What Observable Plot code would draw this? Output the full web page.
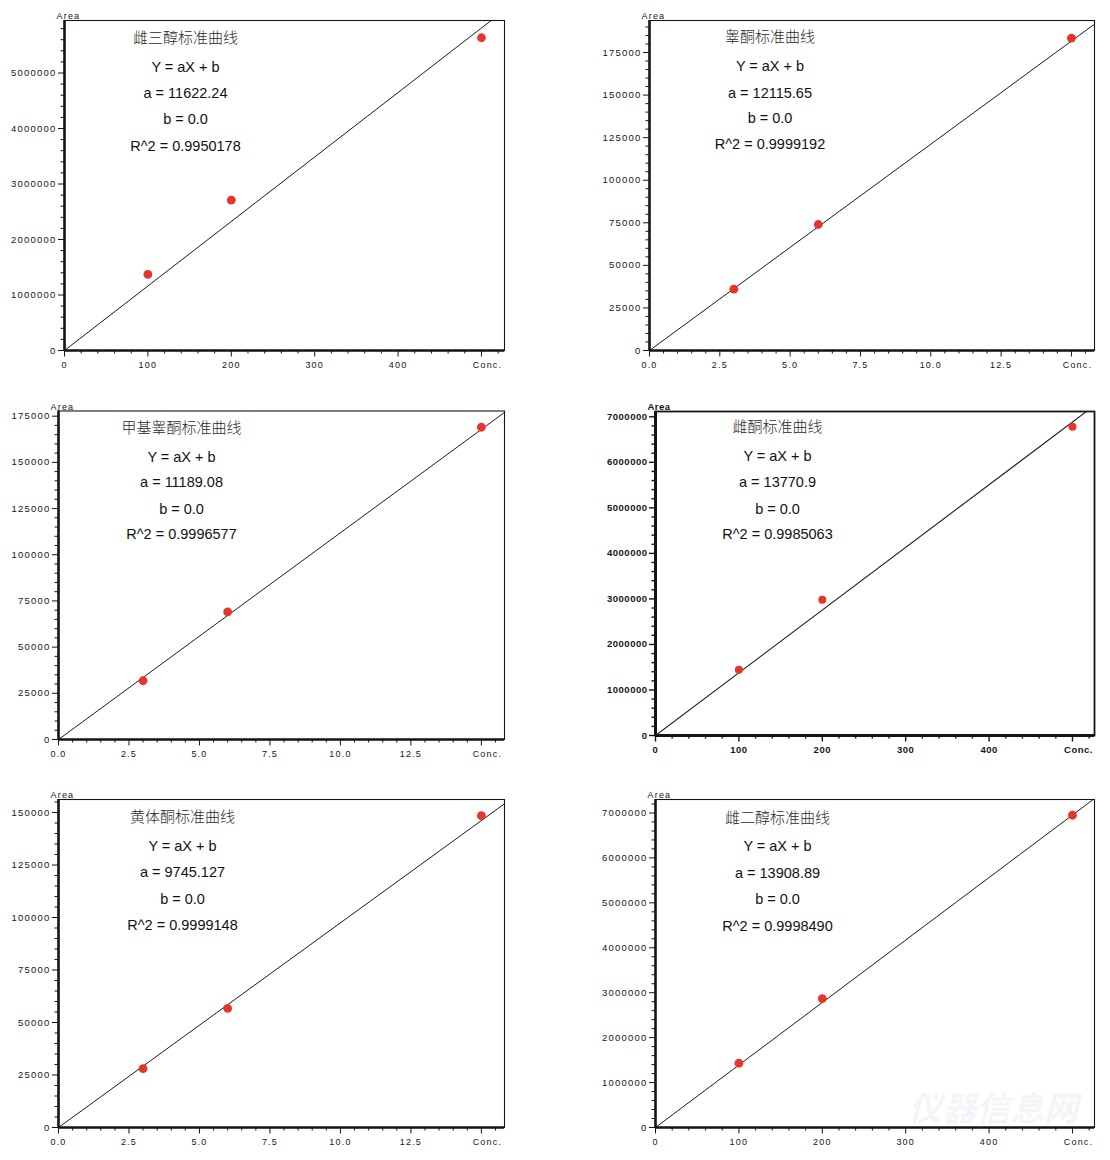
<!DOCTYPE html>
<html>
<head>
<meta charset="utf-8">
<script src="https://cdn.jsdelivr.net/npm/d3@7"></script>
<script src="https://cdn.jsdelivr.net/npm/@observablehq/plot@0.6"></script>
<style>
  body { margin: 0; background: #fff; }
  #root { position: relative; width: 1110px; height: 1160px; overflow: hidden; background: #fff; }
  .panel { position: absolute; }
  .wm { position: absolute; color: rgba(170,180,200,0.15); font-family: "Noto Sans CJK SC", sans-serif; white-space: nowrap; pointer-events: none; }
</style>
</head>
<body>
<div id="root"></div>
<script>
// ---------- data ----------
const titles = ["雌三醇标准曲线", "睾酮标准曲线", "甲基睾酮标准曲线", "雌酮标准曲线", "黄体酮标准曲线", "雌二醇标准曲线"];
const slopes = [11622.24, 12115.65, 11189.08, 13770.9, 9745.127, 13908.89];
const aTexts = ["11622.24", "12115.65", "11189.08", "13770.9", "9745.127", "13908.89"];
const bTexts = ["0.0", "0.0", "0.0", "0.0", "0.0", "0.0"];
const r2Texts = ["0.9950178", "0.9999192", "0.9996577", "0.9985063", "0.9999148", "0.9998490"];

const concE3 = [100, 200, 500];
const areaE3 = [1370000, 2710000, 5635000];
const concT = [3, 6, 15];
const areaT = [36000, 74000, 183500];
const concMT = [3, 6, 15];
const areaMT = [31800, 69100, 169000];
const concE1 = [100, 200, 500];
const areaE1 = [1445000, 2980000, 6780000];
const concP = [3, 6, 15];
const areaP = [28000, 56700, 148500];
const concE2 = [100, 200, 500];
const areaE2 = [1430000, 2870000, 6950000];

const concs = [concE3, concT, concMT, concE1, concP, concE2];
const areas = [areaE3, areaT, areaMT, areaE1, areaP, areaE2];

const xTicksHundred = [0, 100, 200, 300, 400];
const xTicksSmall = [0, 2.5, 5, 7.5, 10, 12.5];
const concTickHundred = 500;
const concTickSmall = 15;
const yTicksMillion = [0, 1000000, 2000000, 3000000, 4000000, 5000000, 6000000, 7000000];
const yTicks25k = [0, 25000, 50000, 75000, 100000, 125000, 150000, 175000];
const axisXName = "Conc.";
const axisYName = "Area";

// ---------- layout ----------
const layouts = [
  {left: 0,   top: 0,   width: 555, height: 390, mL: 64,  mR: 51, mT: 20,   mB: 40, xMax: 527.6, yMax: 5946000, big: true,  tdx: 121,   tdy: [17.5, 47, 73, 99, 126]},
  {left: 555, top: 0,   width: 555, height: 390, mL: 94,  mR: 16, mT: 20,   mB: 40, xMax: 15.82, yMax: 193800,  big: false, tdx: 120.5, tdy: [17, 46, 72.5, 98, 124]},
  {left: 0,   top: 390, width: 555, height: 390, mL: 58,  mR: 51, mT: 20.5, mB: 41, xMax: 15.82, yMax: 177800,  big: false, tdx: 123,   tdy: [17.5, 46.5, 71.5, 98.5, 123.5]},
  {left: 555, top: 390, width: 555, height: 390, mL: 100, mR: 16, mT: 21,   mB: 45, xMax: 526.4, yMax: 7116000, big: true,  tdx: 122,   tdy: [16, 44.5, 71, 97.5, 123], heavy: true},
  {left: 0,   top: 780, width: 555, height: 380, mL: 58,  mR: 51, mT: 19,   mB: 33, xMax: 15.82, yMax: 156200,  big: false, tdx: 124,   tdy: [18, 46.5, 73, 99.5, 126]},
  {left: 555, top: 780, width: 555, height: 380, mL: 100, mR: 16, mT: 19,   mB: 33, xMax: 526.4, yMax: 7300000, big: true,  tdx: 122,   tdy: [18.5, 46.5, 73.5, 99.5, 126.5]}
];

const root = document.getElementById("root");
const near = (v, s) => Math.abs(v / s - Math.round(v / s)) < 1e-6;

function makePanel(i) {
  const L = layouts[i];
  const big = L.big;
  const xMaj = big ? xTicksHundred : xTicksSmall;
  const xConc = big ? concTickHundred : concTickSmall;
  const xStep = big ? 20 : 0.5, xMajStep = big ? 100 : 2.5;
  const yMaj = (big ? yTicksMillion : yTicks25k).filter(v => v <= L.yMax);
  const yStep = big ? 200000 : 5000, yMajStep = big ? 1000000 : 25000;
  const xMinor = d3.range(0, L.xMax + 1e-9, xStep).filter(v => !near(v, xMajStep));
  const yMinor = d3.range(0, L.yMax + 1e-9, yStep).filter(v => !near(v, yMajStep));

  const pts = concs[i].map((c, j) => ({c, a: areas[i][j]}));
  const fit = [0, L.xMax * 1.2].map(c => ({c, a: slopes[i] * c}));
  const lines = [titles[i], "Y = aX + b", "a = " + aTexts[i], "b = " + bTexts[i], "R^2 = " + r2Texts[i]];

  const heavy = !!L.heavy;
  const ink = "#151515";
  const xFont = {fontSize: heavy ? 9.5 : 9, fontWeight: heavy ? "bold" : "normal", fill: ink};
  const yFont = {fontSize: 9.5, fontWeight: heavy ? "bold" : "normal", fill: ink};

  const textMarks = lines.map((t, j) => Plot.text([t], {
    frameAnchor: "top-left", dx: L.tdx, dy: L.tdy[j],
    text: d => d, textAnchor: "middle", lineAnchor: "middle",
    fontSize: j === 0 ? 15 : 14.5,
    fontFamily: j === 0 ? "'Noto Sans CJK SC', sans-serif" : "'Liberation Sans', Arial, sans-serif",
    fontWeight: j === 0 ? 300 : "normal",
    fill: j === 0 ? "#2a2a2a" : "#111"
  }));

  const plot = Plot.plot({
    width: L.width, height: L.height,
    marginLeft: L.mL, marginRight: L.mR, marginTop: L.mT, marginBottom: L.mB,
    x: {domain: [0, L.xMax], label: null},
    y: {domain: [0, L.yMax], label: null},
    style: {fontFamily: "'Liberation Sans', Arial, sans-serif", background: "transparent", color: ink, overflow: "visible"},
    marks: [
      Plot.line(fit, {x: "c", y: "a", stroke: "#1a1a1a", strokeWidth: heavy ? 1.1 : 1, clip: true}),
      Plot.dot(pts, {x: "c", y: "a", r: heavy ? 4 : 4.4, fill: "#e8352b", stroke: "none"}),
      Plot.frame({stroke: ink, strokeWidth: heavy ? 1.8 : 1.1}),
      Plot.ruleX([0], {stroke: ink, strokeWidth: heavy ? 3 : 2.6}),
      Plot.ruleY([0], {stroke: ink, strokeWidth: heavy ? 3 : 2.6}),
      Plot.axisX({ticks: [...xMaj, xConc], label: null, tickSize: 6.5, tickPadding: 4.5, stroke: ink, strokeWidth: heavy ? 1.4 : 1,
        tickFormat: d => d === xConc ? "" : (big ? String(d) : d.toFixed(1)), ...xFont}),
      Plot.axisX({ticks: xMinor, label: null, tickSize: 3.5, stroke: ink, strokeWidth: heavy ? 1.4 : 1, tickFormat: () => "", ...xFont}),
      Plot.axisY({ticks: yMaj, label: null, tickSize: 6, tickPadding: 2, stroke: ink, strokeWidth: heavy ? 1.4 : 1,
        tickFormat: d => String(d), ...yFont}),
      Plot.axisY({ticks: yMinor, label: null, tickSize: 3.5, stroke: ink, strokeWidth: heavy ? 1.4 : 1, tickFormat: () => "", ...yFont}),
      Plot.text([xConc], {x: d => d, frameAnchor: "bottom", dy: 11, dx: 6, lineAnchor: "top", textAnchor: "middle",
        text: () => axisXName, ...xFont}),
      Plot.text([axisYName], {frameAnchor: "top-left", dx: -8, dy: -1.5, textAnchor: "start", lineAnchor: "bottom",
        text: d => d, ...xFont}),
      ...textMarks
    ]
  });

  // letter spacing for the axis texts only (the reference renders them widely tracked)
  const lineSet = new Set(lines);
  d3.select(plot).selectAll("text").each(function () {
    if (!lineSet.has(this.textContent)) this.style.letterSpacing = heavy ? "0.5px" : "1.2px";
  });

  const div = document.createElement("div");
  div.className = "panel";
  div.style.left = L.left + "px";
  div.style.top = L.top + "px";
  div.appendChild(plot);
  root.appendChild(div);
}

for (let i = 0; i < 6; i++) makePanel(i);

// faint watermark
const wm = document.createElement("div");
wm.className = "wm";
wm.style.left = "908px"; wm.style.top = "1082px";
wm.style.fontSize = "34px"; wm.style.fontWeight = "bold"; wm.style.fontStyle = "italic";
wm.textContent = "仪器信息网";
root.appendChild(wm);
</script>
</body>
</html>
